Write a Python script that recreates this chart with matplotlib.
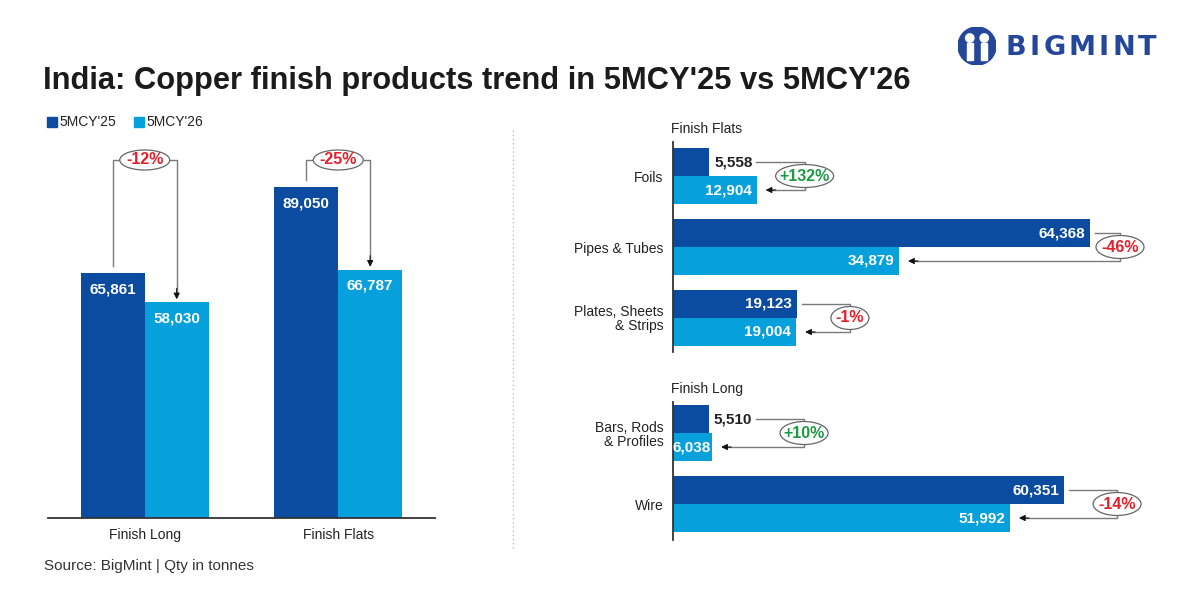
import numpy as np
import matplotlib
matplotlib.use("Agg")
import matplotlib.pyplot as plt
from matplotlib.patches import Ellipse, Circle, Rectangle
from matplotlib.lines import Line2D

plt.rcParams["font.family"] = ["Liberation Sans", "DejaVu Sans"]

W, H = 1200, 600
DARK = "#0c4ca0"
LIGHT = "#06a0dd"
TXT = "#222222"
RED = "#e3202b"
GREEN = "#1e9a45"
LINE = "#7a7a7a"

# ---- data ----
series_names = ["5MCY'25", "5MCY'26"]
group_names = ["Finish Long", "Finish Flats"]
group_25 = [65861, 89050]
group_26 = [58030, 66787]

flats_items = ["Foils", "Pipes & Tubes", "Plates, Sheets\n& Strips"]
flats_25 = [5558, 64368, 19123]
flats_26 = [12904, 34879, 19004]

long_items = ["Bars, Rods\n& Profiles", "Wire"]
long_25 = [5510, 60351]
long_26 = [6038, 51992]


def pct(a, b):
    return round((b / a - 1) * 100)


def pct_label(p):
    return f"+{p}%" if p > 0 else f"{p}%"


def fx(x):
    return x / W


def fy(y):
    return 1 - y / H


def px_box(x0, y0, x1, y1):
    # pixel box (top-left origin) -> figure rect
    return [fx(x0), fy(y1), (x1 - x0) / W, (y1 - y0) / H]


fig = plt.figure(figsize=(12, 6), dpi=100)
fig.patch.set_facecolor("white")

# ---- title / logo ----
fig.text(fx(43), fy(81), "India: Copper finish products trend in 5MCY'25 vs 5MCY'26",
         fontsize=22.2, fontweight="bold", color="#1b1b1b", va="center", ha="left")

lax = fig.add_axes(px_box(958, 27, 996, 65))
lax.set_xlim(-1, 1)
lax.set_ylim(-1, 1)
lax.set_aspect("equal")
lax.axis("off")
lax.add_patch(Circle((0, 0), 1, color="#24479a"))
for sx in (-0.38, 0.38):
    lax.add_patch(Circle((sx, 0.42), 0.22, color="white"))
    lax.add_patch(Rectangle((sx - 0.15, -0.75), 0.30, 0.9, color="white"))
lax.add_patch(Rectangle((-0.06, -1.0), 0.12, 0.55, color="#24479a"))

# logo word, letter by letter with a little tracking
fig.canvas.draw()
rend = fig.canvas.get_renderer()
lx_px = 1006
for ch in "BIGMINT":
    t = fig.text(fx(lx_px), fy(48), ch, fontsize=19.5, fontweight="bold",
                 family="DejaVu Sans", color="#24479a", va="center", ha="left")
    lx_px += t.get_window_extent(rend).width + 3.2

# ---- legend ----
for x, name, col in [(47, series_names[0], DARK), (134, series_names[1], LIGHT)]:
    fig.patches.append(Rectangle((fx(x), fy(127)), 10 / W, 10 / H, color=col,
                                 transform=fig.transFigure, figure=fig))
    fig.text(fx(x + 12), fy(122), name, fontsize=10, color=TXT, va="center", ha="left")

# ---- left panel: grouped columns ----
axl = fig.add_axes(px_box(48, 130, 435, 518))
bw = 0.33
xg = np.arange(len(group_names))
axl.bar(xg - bw / 2, group_25, bw, color=DARK)
axl.bar(xg + bw / 2, group_26, bw, color=LIGHT)
axl.set_xlim(-0.5, 1.5)
y_top = 104400
axl.set_ylim(0, y_top)
for s in ("left", "right", "top"):
    axl.spines[s].set_visible(False)
axl.spines["bottom"].set_color("#333333")
axl.spines["bottom"].set_linewidth(1.3)
axl.set_yticks([])
axl.set_xticks(xg)
axl.set_xticklabels(group_names, fontsize=10, color=TXT)
axl.tick_params(axis="x", length=0, pad=7)

ppx_l = 387 / 2.0          # px per x unit
ppy_l = 388 / y_top        # px per y unit
v_off = 16 / ppy_l
for i in range(len(group_names)):
    a, b = group_25[i], group_26[i]
    axl.text(i - bw / 2, a - v_off, f"{a:,}", color="white", fontsize=11,
             fontweight="bold", ha="center", va="center")
    axl.text(i + bw / 2, b - v_off, f"{b:,}", color="white", fontsize=11,
             fontweight="bold", ha="center", va="center")
    lx, rx = i - bw / 2, i + bw / 2
    top = (518 - 160) / ppy_l
    axl.plot([lx, lx, rx, rx], [a + 7 / ppy_l, top, top, b + 6 / ppy_l],
             color=LINE, lw=1.0, clip_on=False, zorder=3)
    axl.annotate("", xy=(rx, b + 3 / ppy_l), xytext=(rx, b + 14 / ppy_l),
                 arrowprops=dict(arrowstyle="-|>", color="#111111", lw=0.8,
                                 mutation_scale=9, shrinkA=0, shrinkB=0),
                 zorder=4, annotation_clip=False)
    p = pct_label(pct(a, b))
    axl.add_patch(Ellipse((i, top), (10 * len(p) + 10) / ppx_l, 20 / ppy_l,
                          fc="white", ec="#666666", lw=0.9, clip_on=False, zorder=5))
    axl.text(i, top, p, color=RED if pct(a, b) < 0 else GREEN, fontsize=11.5,
             fontweight="bold", ha="center", va="center", zorder=6)

# ---- divider ----
fig.add_artist(Line2D([fx(513), fx(513)], [fy(130), fy(550)], transform=fig.transFigure,
                      color="#bdbdbd", lw=1.0, ls=(0, (1, 2))))

# ---- right panel: horizontal bars ----
x_max = 76700
ppx_r = (1170 - 673) / x_max
ppy_r = 71.0
bh = 28 / ppy_r


def hpanel(box, ylim, items, v25, v26, title):
    ax = fig.add_axes(px_box(*box))
    y = np.arange(len(items))
    ax.barh(y - bh / 2, v25, bh, color=DARK)
    ax.barh(y + bh / 2, v26, bh, color=LIGHT)
    ax.set_xlim(0, x_max)
    ax.set_ylim(*ylim)
    for s in ("right", "top", "bottom"):
        ax.spines[s].set_visible(False)
    ax.spines["left"].set_color("#333333")
    ax.spines["left"].set_linewidth(1.3)
    ax.set_xticks([])
    ax.set_yticks(y)
    ax.set_yticklabels(items, fontsize=10, color=TXT, linespacing=1.0)
    ax.tick_params(axis="y", length=0, pad=7)
    ax.text(-2 / ppx_r, ylim[1] - 9 / ppy_r, title, fontsize=10, color=TXT,
            ha="left", va="baseline")
    pad = 5 / ppx_r
    labels = []
    for i in range(len(items)):
        a, b = v25[i], v26[i]
        if a >= 10000:
            t = ax.text(a - pad, i - bh / 2, f"{a:,}", color="white", fontsize=11,
                        fontweight="bold", ha="right", va="center")
            start = a + pad
        else:
            t = ax.text(a + pad, i - bh / 2, f"{a:,}", color=TXT, fontsize=11,
                        fontweight="bold", ha="left", va="center")
            start = None
        bpad = pad if b >= 10000 else 1.5 / ppx_r
        ax.text(b - bpad, i + bh / 2, f"{b:,}", color="white", fontsize=11,
                fontweight="bold", ha="right", va="center")
        labels.append((t, start))
    return ax, labels


def brackets(ax, v25, v26, labels):
    fig.canvas.draw()
    r = fig.canvas.get_renderer()
    inv = ax.transData.inverted()
    for i, (t, start) in enumerate(labels):
        a, b = v25[i], v26[i]
        if start is None:
            bb = t.get_window_extent(r)
            start = inv.transform((bb.x1, bb.y0))[0] + 4 / ppx_r
        bx = min(max(start, b) + 48 / ppx_r, (1120 - 673) / ppx_r)
        y1, y2 = i - bh / 2, i + bh / 2
        tip = b + 9 / ppx_r
        ax.plot([start, bx, bx, tip + 6 / ppx_r], [y1, y1, y2, y2], color=LINE,
                lw=1.0, clip_on=False, zorder=3)
        ax.annotate("", xy=(tip, y2), xytext=(tip + 10 / ppx_r, y2),
                    arrowprops=dict(arrowstyle="-|>", color="#111111", lw=0.8,
                                    mutation_scale=9, shrinkA=0, shrinkB=0),
                    zorder=4, annotation_clip=False)
        p = pct(a, b)
        s = pct_label(p)
        ax.add_patch(Ellipse((bx, i), (10 * len(s) + 8) / ppx_r, 23 / ppy_r,
                             fc="white", ec="#666666", lw=0.9, clip_on=False, zorder=5))
        ax.text(bx, i, s, color=RED if p < 0 else GREEN, fontsize=11.5,
                fontweight="bold", ha="center", va="center", zorder=6)


ax_f, lab_f = hpanel((673, 142, 1170, 352), (2.479, -0.479), flats_items,
                     flats_25, flats_26, "Finish Flats")
ax_l, lab_l = hpanel((673, 402, 1170, 540), (1.507, -0.437), long_items,
                     long_25, long_26, "Finish Long")
brackets(ax_f, flats_25, flats_26, lab_f)
brackets(ax_l, long_25, long_26, lab_l)

# ---- source ----
fig.text(fx(44), fy(566), "Source: BigMint | Qty in tonnes", fontsize=11,
         color="#333333", va="center", ha="left")

fig.savefig("out.png", dpi=100)
